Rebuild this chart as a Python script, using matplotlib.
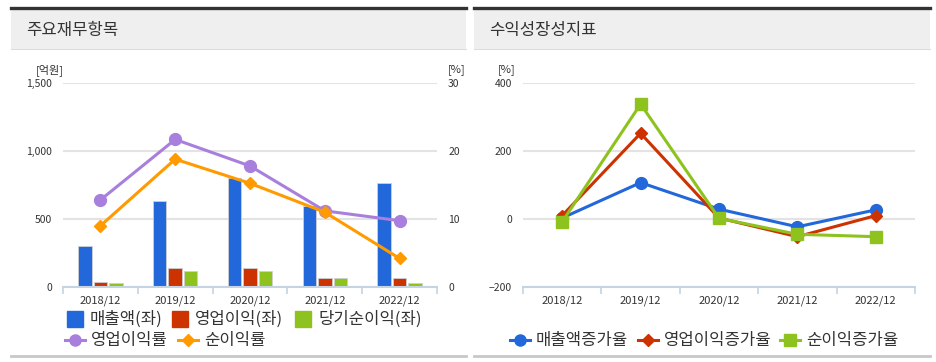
import numpy as np
import matplotlib
matplotlib.use("Agg")
import matplotlib.pyplot as plt
from matplotlib.lines import Line2D
from matplotlib.patches import Rectangle

plt.rcParams['font.family'] = ['Noto Sans CJK KR', 'DejaVu Sans']

# data
years = ['2018/12', '2019/12', '2020/12', '2021/12', '2022/12']
sales = [305, 635, 805, 595, 767]
op_profit = [37, 137, 137, 69, 69]
net_profit = [27, 118, 118, 69, 27]
op_margin = [12.8, 21.7, 17.8, 11.2, 9.75]
net_margin = [9.0, 18.8, 15.25, 11.0, 4.2]

sales_growth = [3, 107, 29, -23, 27]
op_growth = [10, 252, 3, -52, 10]
net_growth = [-8, 338, 2, -45, -52]

W, H = 936, 362
BLUE = '#2268DA'
RED = '#CC3300'
GREEN = '#8DC21F'
PURPLE = '#A97FDE'
ORANGE = '#FF9A00'
GRID = '#E3E3E3'
SPINE = '#C5D3E2'
TXT = '#333333'

fig = plt.figure(figsize=(W / 100, H / 100), dpi=100)


def rect(l, t, r, b):
    return [l / W, 1 - b / H, (r - l) / W, (b - t) / H]


def fx(x):
    return x / W


def fy(y):
    return 1 - y / H


# panel headers
for l, r, title in [(11, 466, '주요재무항목'), (474, 930, '수익성장성지표')]:
    fig.add_artist(Rectangle((fx(l), fy(49)), fx(r - l), (49 - 8) / H,
                             transform=fig.transFigure, facecolor='#EFEFEF', edgecolor='none'))
    fig.add_artist(Line2D([fx(l), fx(r)], [fy(8), fy(8)], transform=fig.transFigure,
                          color='#333333', lw=2.4))
    fig.add_artist(Line2D([fx(l), fx(r)], [fy(49), fy(49)], transform=fig.transFigure,
                          color='#DDDDDD', lw=0.8))
    fig.add_artist(Line2D([fx(l), fx(r)], [fy(355.5), fy(355.5)], transform=fig.transFigure,
                          color='#C8C8C8', lw=2))
    fig.text(fx(l + 15), fy(30), title, fontsize=12, color=TXT, va='center', ha='left')


def style_axis(ax, ncat):
    ax.set_xlim(-0.5, ncat - 0.5)
    ax.set_xticks(range(ncat))
    ax.set_xticklabels(years, fontsize=8, color=TXT)
    ax.set_xticks(np.arange(-0.5, ncat, 1.0), minor=True)
    ax.tick_params(axis='x', which='major', length=0, pad=6)
    ax.tick_params(axis='x', which='minor', length=5, color=SPINE, width=1.2)
    ax.tick_params(axis='y', length=0, labelsize=7.5, labelcolor=TXT, pad=8)
    for s in ['top', 'right', 'left']:
        ax.spines[s].set_visible(False)
    ax.spines['bottom'].set_color(SPINE)
    ax.spines['bottom'].set_linewidth(1.5)
    ax.grid(axis='y', color=GRID, lw=1.5)
    ax.set_axisbelow(True)
    ax.set_facecolor('none')


# left chart
ax1 = fig.add_axes(rect(63, 83, 437, 287))
x = np.arange(len(years))
bw = 0.18
gap = 0.027
for off, vals, col in [(-(bw + gap), sales, BLUE), (0, op_profit, RED), (bw + gap, net_profit, GREEN)]:
    ax1.bar(x + off, vals, width=bw, color=col, edgecolor='#D0D0D0', linewidth=0.6, zorder=2)
ax1.set_ylim(0, 1500)
ax1.set_yticks([0, 500, 1000, 1500])
ax1.set_yticklabels(['0', '500', '1,000', '1,500'])
style_axis(ax1, len(years))

ax1r = ax1.twinx()
ax1r.set_ylim(0, 30)
ax1r.set_yticks([0, 10, 20, 30])
ax1r.tick_params(axis='y', length=0, labelsize=7.5, labelcolor=TXT, pad=8)
for s in ax1r.spines.values():
    s.set_visible(False)
ax1r.plot(x, op_margin, color=PURPLE, lw=2.2, marker='o', ms=8.5, zorder=3)
ax1r.plot(x, net_margin, color=ORANGE, lw=2.2, marker='D', ms=6, zorder=4)

fig.text(fx(50), fy(70), '[억원]', fontsize=8, color=TXT, ha='center', va='center')
fig.text(fx(457), fy(70), '[%]', fontsize=8, color=TXT, ha='center', va='center')

# right chart
ax2 = fig.add_axes(rect(523, 83, 915, 287))
ax2.plot(x, sales_growth, color=BLUE, lw=2.2, marker='o', ms=8.5, zorder=3)
ax2.plot(x, op_growth, color=RED, lw=2.2, marker='D', ms=6, zorder=4)
ax2.plot(x, net_growth, color=GREEN, lw=2.2, marker='s', ms=8.5, zorder=5)
ax2.set_ylim(-200, 400)
ax2.set_yticks([-200, 0, 200, 400])
style_axis(ax2, len(years))
fig.text(fx(507), fy(70), '[%]', fontsize=8, color=TXT, ha='center', va='center')


# legends
def leg_square(px, py, col, label):
    fig.add_artist(Line2D([fx(px)], [fy(py)], transform=fig.transFigure, marker='s',
                          ms=11, color=col, mec=col, lw=0))
    fig.text(fx(px + 15), fy(py), label, fontsize=12, color=TXT, ha='left', va='center')


def leg_line(px, py, col, mk, ms, label):
    fig.add_artist(Line2D([fx(px - 10), fx(px + 10)], [fy(py), fy(py)], transform=fig.transFigure,
                          color=col, lw=2.2, marker=None))
    fig.add_artist(Line2D([fx(px)], [fy(py)], transform=fig.transFigure, marker=mk,
                          ms=ms, color=col, lw=0))
    fig.text(fx(px + 16), fy(py), label, fontsize=12, color=TXT, ha='left', va='center')


leg_square(75, 319, BLUE, '매출액(좌)')
leg_square(180, 319, RED, '영업이익(좌)')
leg_square(303, 319, GREEN, '당기순이익(좌)')
leg_line(75, 340, PURPLE, 'o', 8, '영업이익률')
leg_line(188, 340, ORANGE, 'D', 6, '순이익률')

leg_line(520, 340, BLUE, 'o', 8, '매출액증가율')
leg_line(648, 340, RED, 'D', 6, '영업이익증가율')
leg_line(790, 340, GREEN, 's', 8, '순이익증가율')

fig.savefig('out.png', dpi=100)
